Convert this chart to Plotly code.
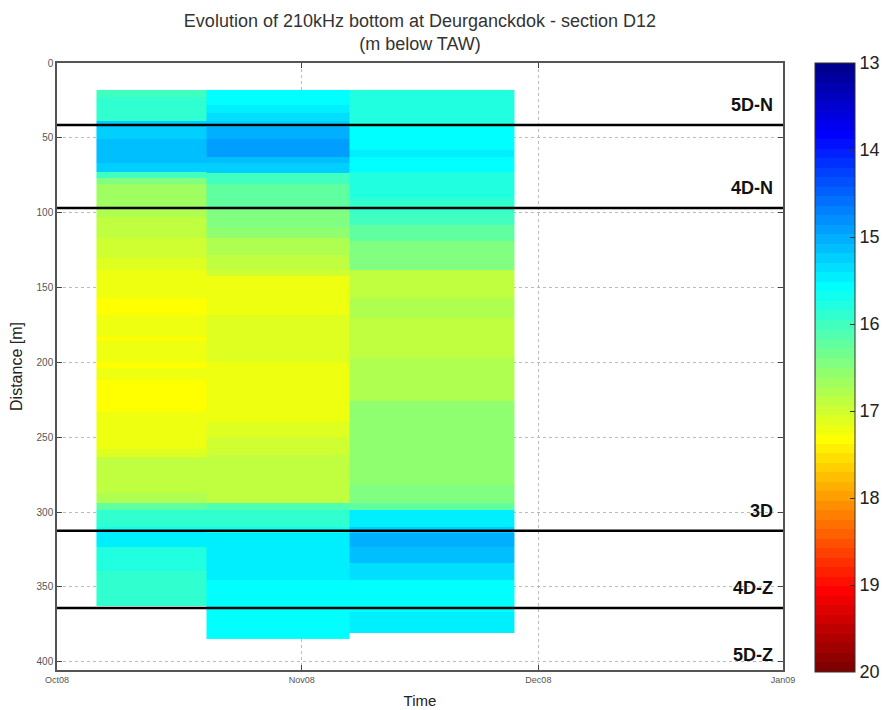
import math
import numpy as np
import plotly.graph_objects as go

# ---------------- data ----------------
# survey periods (time bins) of the three columns of the pcolor plot
time_edges = ["2008-10-06", "2008-10-20", "2008-11-07", "2008-11-28"]

# distance band edges [m] and bottom depth [m below TAW] for each column
col1_edges = [18, 23, 39, 43, 51, 67, 73, 77, 81, 96, 103, 117, 130, 138, 157, 168, 183,
              186, 200, 204, 212, 233, 258, 263, 287, 294, 298.5, 310, 313, 323, 339, 363]
col1_depth = [16.0, 15.85, 15.25, 15.19, 15.08, 15.19, 16.0, 16.4, 16.65, 16.75, 16.83,
              16.94, 17.1, 17.16, 17.27, 17.16, 17.27, 17.16, 17.27, 17.16, 17.3, 17.16,
              17.1, 16.85, 16.72, 16.28, 15.95, 15.7, 15.5, 15.84, 15.95]

col2_edges = [18, 28, 33.5, 39, 43, 51, 63, 67, 73.5, 81, 96, 103, 110, 117, 128, 138,
              142, 168, 200, 240, 250, 262, 294, 298.5, 310, 314, 345, 385]
col2_depth = [15.62, 15.45, 15.35, 15.28, 15.0, 14.86, 15.08, 15.25, 16.06, 16.28, 16.4,
              16.5, 16.6, 16.72, 16.83, 16.94, 17.16, 17.05, 17.16, 17.05, 16.94, 16.83,
              16.17, 15.95, 15.7, 15.5, 15.62]

col3_edges = [18, 43, 58, 63, 73, 90, 100, 108, 119, 130, 138, 157, 170, 197, 226, 281,
              287, 294, 298.5, 310, 314, 323, 334, 345, 367, 381]
col3_depth = [15.84, 15.62, 15.5, 15.62, 15.84, 15.95, 16.06, 16.28, 16.4, 16.5, 16.83,
              16.72, 16.83, 16.72, 16.6, 16.5, 16.4, 16.28, 15.5, 15.2, 14.97, 15.08,
              15.35, 15.62, 15.41]

# section boundaries (distance [m]) and their labels
section_names = ["5D-N", "4D-N", "3D", "4D-Z", "5D-Z"]
section_lines = [41.5, 96.8, 312.5, 364.0, 409.0]

x_tick_vals = ["2008-10-01", "2008-11-01", "2008-12-01", "2009-01-01"]
x_tick_text = ["Oct08", "Nov08", "Dec08", "Jan09"]
y_tick_vals = [0, 50, 100, 150, 200, 250, 300, 350, 400]
cbar_vals = [13, 14, 15, 16, 17, 18, 19, 20]

# ---------------- grid table built from the column band lists ----------------
columns = [(col1_edges, col1_depth), (col2_edges, col2_depth), (col3_edges, col3_depth)]
y_edges = sorted(set(col1_edges) | set(col2_edges) | set(col3_edges))
z = []
for y0, y1 in zip(y_edges[:-1], y_edges[1:]):
    mid = 0.5 * (y0 + y1)
    row = []
    for edges, depth in columns:
        val = None
        for k in range(len(depth)):
            if edges[k] <= mid < edges[k + 1]:
                val = depth[k]
                break
        row.append(val)
    z.append(row)
z_plot = [[(-v if v is not None else None) for v in row] for row in z]

# ---------------- colour map (MATLAB jet, 64 levels) ----------------
def matlab_jet(m=64):
    n = math.ceil(m / 4)
    u = np.concatenate([np.arange(1, n + 1) / n, np.ones(n - 1), np.arange(n, 0, -1) / n])
    g = math.ceil(n / 2) - (1 if m % 4 == 1 else 0) + np.arange(1, len(u) + 1)
    r = g + n
    b = g - n
    J = np.zeros((m, 3))
    for arr, ch in ((r, 0), (g, 1), (b, 2)):
        ok = (arr >= 1) & (arr <= m)
        J[arr[ok] - 1, ch] = u[ok]
    return J

jet = matlab_jet(64)
# values are plotted negated so that 13 sits on top of the colour bar
colorscale = []
N = len(jet)
for i in range(N):
    c = jet[N - 1 - i]
    col = "rgb(%d,%d,%d)" % tuple(int(round(v * 255)) for v in c)
    colorscale.append([i / N, col])
    colorscale.append([(i + 1) / N, col])

FONT = "Liberation Sans, Arial, Helvetica, sans-serif"

fig = go.Figure()
fig.add_trace(go.Heatmap(
    x=time_edges, y=y_edges, z=z_plot, customdata=z,
    coloraxis="coloraxis", zsmooth=False, hoverongaps=False,
    hovertemplate="%{y} m<br>%{customdata} m below TAW<extra></extra>",
))

ymax = 405.5
for name, yl in zip(section_names, section_lines):
    if yl <= ymax:
        fig.add_shape(type="line", xref="paper", x0=0, x1=1, yref="y", y0=yl, y1=yl,
                      line=dict(color="black", width=2.5), layer="above")
    fig.add_annotation(text="<b>%s</b>" % name, xref="paper", x=0.989, xanchor="right",
                       yref="y", y=yl - 13.5, yanchor="middle", showarrow=False,
                       font=dict(family=FONT, size=18, color="#111"))

fig.update_layout(
    width=885, height=710,
    margin=dict(l=57, r=102, t=63, b=40, autoexpand=False),
    paper_bgcolor="white", plot_bgcolor="white",
    font=dict(family=FONT, color="#333"),
    title=dict(text="Evolution of 210kHz bottom at Deurganckdok - section D12<br>(m below TAW)",
               x=0.5, xref="paper", xanchor="center", y=0.962, yanchor="top",
               font=dict(family=FONT, size=18, color="#333")),
    coloraxis=dict(
        colorscale=colorscale, cmin=-20, cmax=-13,
        colorbar=dict(
            x=1.044, xanchor="left", xref="paper", y=1.0, yanchor="top", yref="paper",
            xpad=0, ypad=0,
            len=1.003, lenmode="fraction", thickness=40, thicknessmode="pixels",
            outlinewidth=1, outlinecolor="#333",
            tickvals=[-v for v in cbar_vals], ticktext=[str(v) for v in cbar_vals],
            ticks="inside", ticklen=5, tickcolor="#333",
            tickfont=dict(family=FONT, size=18, color="#222"),
        ),
    ),
    xaxis=dict(
        type="date", range=["2008-10-01", "2009-01-01"],
        tickvals=x_tick_vals, ticktext=x_tick_text,
        tickfont=dict(family=FONT, size=9, color="#555"),
        ticks="inside", ticklen=5, tickcolor="#444",
        showgrid=True, gridcolor="#bbb", griddash="dot", gridwidth=1,
        showline=True, linecolor="#555", linewidth=1.5, mirror="ticks",
        zeroline=False,
        title=dict(text="Time", font=dict(family=FONT, size=15, color="#222"), standoff=12),
    ),
    yaxis=dict(
        range=[ymax, 0], tickvals=y_tick_vals,
        tickfont=dict(family=FONT, size=10, color="#555"),
        ticks="inside", ticklen=5, tickcolor="#444",
        showgrid=True, gridcolor="#bbb", griddash="dot", gridwidth=1,
        showline=True, linecolor="#555", linewidth=1.5, mirror="ticks",
        zeroline=False,
        title=dict(text="Distance [m]", font=dict(family=FONT, size=16, color="#222"), standoff=10),
    ),
)

fig.write_html("out.html")
